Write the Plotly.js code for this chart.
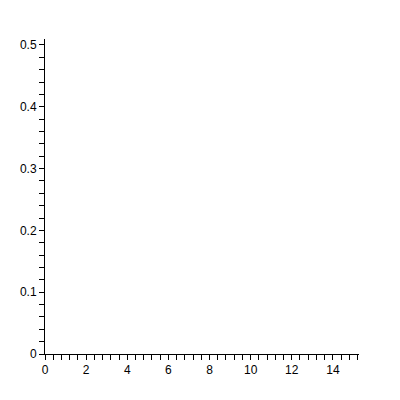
<!DOCTYPE html>
<html>
<head>
<meta charset="utf-8">
<script src="https://cdn.plot.ly/plotly-3.0.1.min.js"></script>
<style>html,body{margin:0;padding:0;background:#fff;}#chart{width:400px;height:400px;}</style>
</head>
<body>
<div id="chart"></div>
<script>
// The reference chart shows empty axes only: no plotted data.
const xValues = [];
const yValues = [];
const xTickValues = [0, 2, 4, 6, 8, 10, 12, 14];
const xTickLabels = ["0", "2", "4", "6", "8", "10", "12", "14"];
const yTickValues = [0, 0.1, 0.2, 0.3, 0.4, 0.5];
const yTickLabels = ["0", "0.1", "0.2", "0.3", "0.4", "0.5"];

const font = {family: "Liberation Sans, Arial, sans-serif", size: 12, color: "#000"};

Plotly.newPlot("chart", [{
  x: xValues, y: yValues, type: "scatter", mode: "lines",
  line: {color: "#ff0000"}, showlegend: false, hoverinfo: "skip"
}], {
  width: 400, height: 400,
  margin: {l: 45, r: 41, t: 39, b: 46},
  paper_bgcolor: "#fff", plot_bgcolor: "#fff",
  showlegend: false,
  font: font,
  xaxis: {
    range: [0, 15.27], showgrid: false, zeroline: false,
    showline: true, linecolor: "#000", linewidth: 1,
    tickmode: "array", tickvals: xTickValues, ticktext: xTickLabels,
    ticks: "outside", ticklen: 5, tickcolor: "#000", tickwidth: 1,
    tickfont: font,
    minor: {dtick: 0.4, tick0: 0, ticks: "outside", ticklen: 5, tickcolor: "#000", showgrid: false},
    fixedrange: true
  },
  yaxis: {
    range: [0, 0.5097], showgrid: false, zeroline: false,
    showline: true, linecolor: "#000", linewidth: 1,
    tickmode: "array", tickvals: yTickValues, ticktext: yTickLabels,
    ticks: "outside", ticklen: 5, tickcolor: "#000", tickwidth: 1,
    tickfont: font,
    minor: {dtick: 0.02, tick0: 0, ticks: "outside", ticklen: 5, tickcolor: "#000", showgrid: false},
    fixedrange: true
  }
}, {displayModeBar: false, staticPlot: true});
</script>
</body>
</html>
